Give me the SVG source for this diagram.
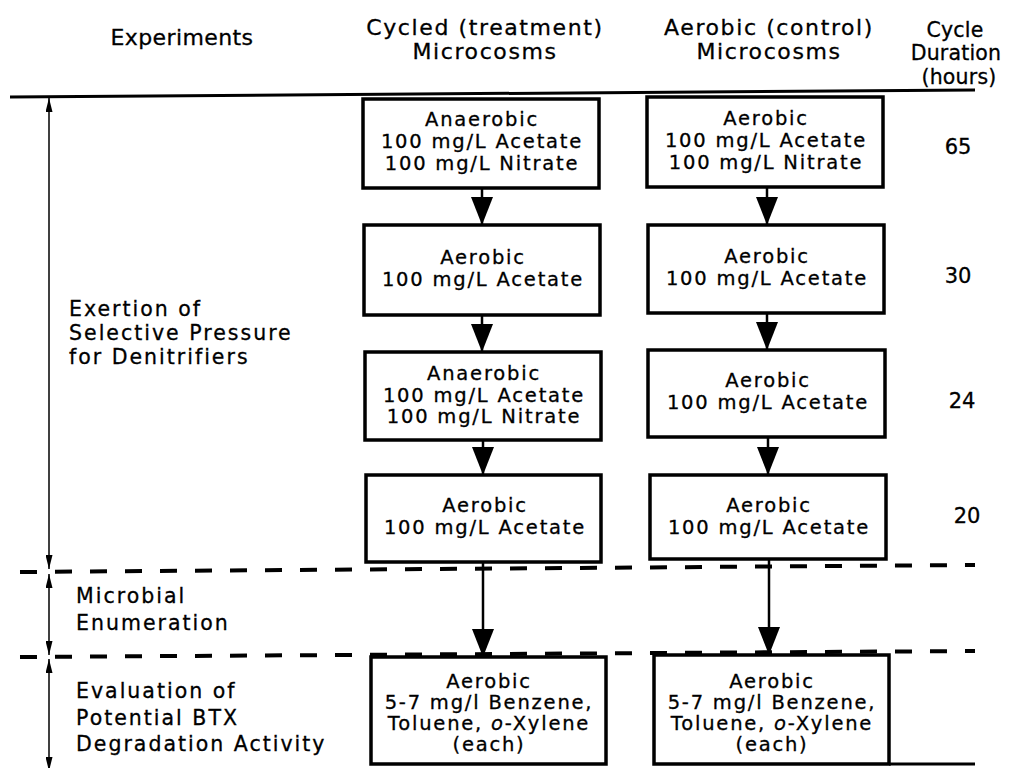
<svg xmlns="http://www.w3.org/2000/svg" width="1015" height="768" viewBox="0 0 1015 768">
<style>
text { font-family: "DejaVu Sans", "Liberation Sans", sans-serif; fill: #000; stroke: #000; stroke-width: 0.3px; }
.bx rect { fill: #fff; stroke: #000; stroke-width: 3.5; }
.bx text { font-size: 19.5px; letter-spacing: 1.8px; text-anchor: middle; }
.hdr { font-size: 22px; letter-spacing: 1.6px; text-anchor: middle; }
.hdr2 { font-size: 20.5px; letter-spacing: 0.2px; text-anchor: middle; }
.lab { font-size: 20.5px; letter-spacing: 2px; }
.num { font-size: 21px; text-anchor: middle; }
.rule { stroke: #000; stroke-width: 3; fill: none; }
.dash { stroke: #000; stroke-width: 4; stroke-dasharray: 17 18; fill: none; }
.conn { stroke: #000; stroke-width: 2.5; fill: none; marker-end: url(#big); }
.dim { stroke: #000; stroke-width: 1.5; fill: none; marker-start: url(#thin); marker-end: url(#thin); }
</style>
<defs>
<marker id="big" markerUnits="userSpaceOnUse" markerWidth="28" markerHeight="22" refX="28" refY="11" orient="auto" viewBox="0 0 28 22">
<path d="M0,0 L28,11 L0,22 z" fill="#000"/>
</marker>
<marker id="thin" markerUnits="userSpaceOnUse" markerWidth="14" markerHeight="7" refX="14" refY="3.5" orient="auto-start-reverse" viewBox="0 0 14 7">
<path d="M0,0 L14,3.5 L0,7 z" fill="#000"/>
</marker>
</defs>
<rect x="0" y="0" width="1015" height="768" fill="#fff"/>

<g id="headers">
<text class="hdr" x="182" y="45" style="letter-spacing:0.4px">Experiments</text>
<text class="hdr" x="485" y="35">Cycled (treatment)</text>
<text class="hdr" x="485" y="59">Microcosms</text>
<text class="hdr" x="769" y="35">Aerobic (control)</text>
<text class="hdr" x="769" y="59">Microcosms</text>
<text class="hdr2" x="955" y="37">Cycle</text>
<text class="hdr2" x="956" y="60">Duration</text>
<text class="hdr2" x="959" y="84">(hours)</text>
</g>

<g id="rules">
<line class="rule" x1="10" y1="97" x2="975" y2="90"/>
<line class="dash" x1="20" y1="572" x2="975" y2="565"/>
<line class="dash" x1="20" y1="657" x2="975" y2="651"/>
<line class="rule" x1="889" y1="764" x2="975" y2="764"/>
</g>

<g id="phase-labels">
<text class="lab" x="69" y="316">Exertion of</text>
<text class="lab" x="69" y="340">Selective Pressure</text>
<text class="lab" x="69" y="364">for Denitrifiers</text>
<text class="lab" x="76" y="603">Microbial</text>
<text class="lab" x="76" y="630">Enumeration</text>
<text class="lab" x="76" y="698">Evaluation of</text>
<text class="lab" x="76" y="725">Potential BTX</text>
<text class="lab" x="76" y="751">Degradation Activity</text>
</g>

<g id="durations">
<text class="num" x="958" y="154">65</text>
<text class="num" x="958" y="283">30</text>
<text class="num" x="962" y="408">24</text>
<text class="num" x="967" y="523">20</text>
</g>

<g id="connectors">
<line class="dim" x1="49" y1="98" x2="49" y2="569"/>
<line class="dim" x1="49" y1="574" x2="49" y2="655"/>
<line class="dim" x1="49" y1="659" x2="49" y2="771"/>
<line class="conn" x1="482" y1="188" x2="482" y2="225"/>
<line class="conn" x1="482" y1="315" x2="482" y2="352"/>
<line class="conn" x1="483" y1="440" x2="483" y2="475"/>
<line class="conn" x1="483" y1="562" x2="483" y2="657"/>
<line class="conn" x1="767" y1="187" x2="767" y2="225"/>
<line class="conn" x1="767" y1="313" x2="767" y2="350"/>
<line class="conn" x1="768" y1="437" x2="768" y2="475"/>
<line class="conn" x1="769" y1="559" x2="769" y2="655"/>
</g>

<g id="cyc1" class="bx">
<rect x="363" y="99" width="236" height="89"/>
<text x="482" y="126">Anaerobic</text>
<text x="482" y="148">100 mg/L Acetate</text>
<text x="482" y="170">100 mg/L Nitrate</text>
</g>
<g id="cyc2" class="bx">
<rect x="364" y="225" width="236" height="90"/>
<text x="483" y="264">Aerobic</text>
<text x="483" y="286">100 mg/L Acetate</text>
</g>
<g id="cyc3" class="bx">
<rect x="365" y="352" width="236" height="88"/>
<text x="484" y="380">Anaerobic</text>
<text x="484" y="402">100 mg/L Acetate</text>
<text x="484" y="423">100 mg/L Nitrate</text>
</g>
<g id="cyc4" class="bx">
<rect x="366" y="475" width="235" height="87"/>
<text x="485" y="512">Aerobic</text>
<text x="485" y="534">100 mg/L Acetate</text>
</g>
<g id="cyc5" class="bx">
<rect x="371" y="657" width="235" height="107"/>
<text x="489" y="688">Aerobic</text>
<text x="489" y="709">5-7 mg/l Benzene,</text>
<text x="489" y="730">Toluene, <tspan font-style="italic">o</tspan>-Xylene</text>
<text x="489" y="751">(each)</text>
</g>

<g id="ctl1" class="bx">
<rect x="647" y="97" width="236" height="90"/>
<text x="766" y="125">Aerobic</text>
<text x="766" y="147">100 mg/L Acetate</text>
<text x="766" y="169">100 mg/L Nitrate</text>
</g>
<g id="ctl2" class="bx">
<rect x="648" y="225" width="236" height="88"/>
<text x="767" y="263">Aerobic</text>
<text x="767" y="285">100 mg/L Acetate</text>
</g>
<g id="ctl3" class="bx">
<rect x="648" y="350" width="237" height="87"/>
<text x="768" y="387">Aerobic</text>
<text x="768" y="409">100 mg/L Acetate</text>
</g>
<g id="ctl4" class="bx">
<rect x="650" y="475" width="236" height="84"/>
<text x="769" y="512">Aerobic</text>
<text x="769" y="534">100 mg/L Acetate</text>
</g>
<g id="ctl5" class="bx">
<rect x="654" y="655" width="235" height="109"/>
<text x="772" y="688">Aerobic</text>
<text x="772" y="709">5-7 mg/l Benzene,</text>
<text x="772" y="730">Toluene, <tspan font-style="italic">o</tspan>-Xylene</text>
<text x="772" y="751">(each)</text>
</g>
</svg>
